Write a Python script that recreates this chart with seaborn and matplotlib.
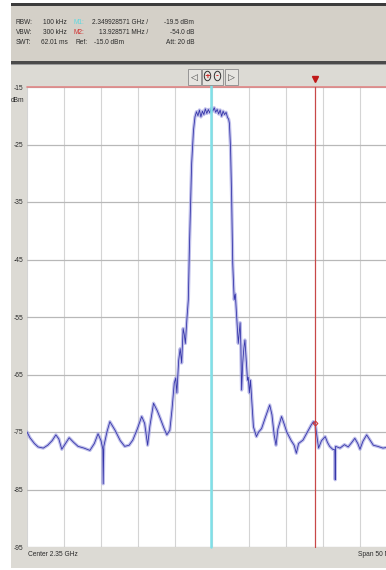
import numpy as np
import pandas as pd
import matplotlib
matplotlib.use("Agg")
import matplotlib.pyplot as plt
from matplotlib.patches import Rectangle, Circle
import seaborn as sns

# ---------------- data ----------------
center_ghz = 2.35
span_mhz = 50.0
ref_level = -15.0
y_ticks = [-15, -25, -35, -45, -55, -65, -75, -85, -95]
y_tick_labels = ["-15", "-25", "-35", "-45", "-55", "-65", "-75", "-85", "-95"]

m1_freq_ghz = 2.349928571
m1_level = -19.5
m2_delta_mhz = 13.928571
m2_delta_db = -54.0

offset_mhz = [
    -25.0, -24.6, -24.0, -23.5, -22.8, -22.2, -21.6, -21.1, -20.7, -20.3,
    -19.8, -19.3, -18.7, -18.1, -17.3, -16.5, -15.9, -15.4, -15.0, -14.75,
    -14.7, -14.62, -14.2, -13.8, -13.1, -12.4, -11.8, -11.2, -10.7, -10.1,
    -9.5, -9.1, -8.7, -8.4, -7.9, -7.4, -7.0, -6.5, -6.1, -5.7,
    -5.4, -5.1, -4.9, -4.75, -4.5, -4.3, -4.1, -3.9, -3.75, -3.6,
    -3.4, -3.2, -3.05, -2.9, -2.75, -2.5, -2.3, -2.1, -1.9, -1.7,
    -1.5, -1.3, -1.1, -0.9, -0.7, -0.5, -0.3, -0.1, 0.1, 0.3,
    0.5, 0.7, 0.9, 1.1, 1.3, 1.5, 1.7, 1.9, 2.1, 2.25,
    2.35, 2.5, 2.65, 2.8, 3.0, 3.15, 3.25, 3.4, 3.55, 3.7,
    3.8, 3.9, 4.0, 4.15, 4.3, 4.45, 4.6, 4.8, 4.9, 5.05,
    5.2, 5.4, 5.6, 6.0, 6.3, 6.7, 7.2, 7.8, 8.1, 8.4,
    8.65, 8.9, 9.4, 9.8, 10.1, 10.7, 11.1, 11.4, 11.7, 12.3,
    12.9, 13.4, 13.7, 13.95, 14.2, 14.4, 14.8, 15.3, 15.6, 15.9,
    16.3, 16.6, 16.65, 16.7, 17.3, 17.9, 18.4, 18.9, 19.3, 19.7,
    20.0, 20.4, 20.9, 21.3, 21.8, 22.4, 23.1, 24.0, 25.0,
]
level_dbm = [
    -75.0, -76.0, -77.0, -77.6, -77.8, -77.3, -76.5, -75.5, -76.2, -78.0,
    -77.0, -76.0, -76.8, -77.5, -77.8, -78.2, -77.0, -75.3, -76.5, -78.0,
    -84.0, -77.5, -75.0, -73.2, -74.7, -76.5, -77.5, -77.3, -76.4, -74.5,
    -72.3, -73.5, -77.3, -74.0, -70.0, -71.3, -72.6, -74.3, -75.5, -74.7,
    -71.0, -66.5, -65.6, -68.2, -62.5, -60.5, -63.0, -57.0, -58.0, -59.6,
    -55.5, -52.0, -42.8, -35.8, -28.3, -22.5, -20.2, -19.3, -20.0, -19.0,
    -20.2, -19.2, -19.8, -18.8, -19.6, -18.9, -19.5, -18.7, -19.2, -18.6,
    -19.4, -18.9, -19.7, -19.0, -20.1, -19.2, -19.8, -19.4, -20.3, -20.6,
    -21.3, -25.4, -34.0, -45.7, -52.0, -51.0, -53.2, -56.7, -59.6, -57.5,
    -56.0, -60.0, -67.7, -63.0, -60.5, -59.0, -62.0, -66.0, -65.5, -68.2,
    -66.0, -70.0, -74.1, -75.8, -75.0, -74.4, -72.5, -70.3, -72.0, -75.5,
    -77.3, -74.5, -72.3, -73.8, -75.0, -76.5, -77.3, -78.7, -77.0, -76.4,
    -75.0, -73.8, -73.2, -73.6, -76.0, -77.8, -76.5, -75.8, -76.8, -77.5,
    -78.0, -78.1, -83.3, -77.5, -77.8, -77.2, -77.6, -76.8, -76.1, -77.0,
    -78.0, -76.6, -75.5, -76.3, -77.3, -77.5, -77.8, -77.6, -77.8,
]

# ---------------- figure ----------------
W, H = 386, 570
sns.set_theme(style="white")
FONTS = ["Liberation Sans Narrow", "Liberation Sans", "DejaVu Sans"]
plt.rcParams["font.family"] = FONTS

fig = plt.figure(figsize=(W / 100, H / 100), dpi=100, facecolor="white")


def fx(x):
    return x / W


def fy(y):
    return 1 - y / H


def frect(x0, y0, x1, y1, **kw):
    fig.add_artist(Rectangle((fx(x0), fy(y1)), fx(x1) - fx(x0), fy(y0) - fy(y1),
                             transform=fig.transFigure, **kw))


# background panels
frect(11, 4, 400, 568, facecolor="#dcdad4", edgecolor="none", zorder=0)
frect(11, 4, 400, 62, facecolor="#d4d0c8", edgecolor="none", zorder=0)
frect(11, 3.5, 400, 5.5, facecolor="#3c3c3c", edgecolor="none", zorder=1)
frect(11, 61, 400, 63.5, facecolor="#4a4a4a", edgecolor="none", zorder=1)
frect(11, 63.5, 400, 64.5, facecolor="#9a9a9a", edgecolor="none", zorder=1)

# header text
fs = 4.7
tc = "#2a2a2a"
hdr = [
    (15.5, 23, "RBW:", tc, "left"),
    (15.5, 33, "VBW:", tc, "left"),
    (15.5, 43, "SWT:", tc, "left"),
    (43, 23, "100 kHz", tc, "left"),
    (43, 33, "300 kHz", tc, "left"),
    (41, 43, "62.01 ms", tc, "left"),
    (73, 23, "M1:", "#5fd8e0", "left"),
    (73, 33, "M2:", "#d03030", "left"),
    (76, 43, "Ref:", tc, "left"),
    (148, 23, f"{m1_freq_ghz:.9f} GHz /", tc, "right"),
    (148, 33, f"{m2_delta_mhz:.6f} MHz /", tc, "right"),
    (94, 43, f"{ref_level:.1f} dBm", tc, "left"),
    (194, 23, f"{m1_level:.1f} dBm", tc, "right"),
    (194, 33, f"{m2_delta_db:.1f} dB", tc, "right"),
    (166, 43, "Att: 20 dB", tc, "left"),
]
for x, y, s, c, ha in hdr:
    fig.text(fx(x), fy(y), s, color=c, fontsize=fs, ha=ha, va="center", zorder=3)

# navigation buttons
for (x0, x1) in [(188, 201), (202, 223), (225, 238)]:
    frect(x0, 69, x1, 85, facecolor="#e6e4e0", edgecolor="#8a8a8a", linewidth=0.6, zorder=2)
fig.text(fx(194.5), fy(77), "◁", fontsize=6.5, ha="center", va="center",
         color="#444444", family="DejaVu Sans", zorder=3)
fig.text(fx(231.5), fy(77), "▷", fontsize=6.5, ha="center", va="center",
         color="#444444", family="DejaVu Sans", zorder=3)
for cx, sym, col in [(207.5, "+", "#d02020"), (217.5, "-", "#d02020")]:
    fig.add_artist(Circle((fx(cx), fy(76)), 3.2 / W, transform=fig.transFigure,
                          facecolor="none", edgecolor="#333333", linewidth=0.7, zorder=3))
    fig.text(fx(cx), fy(76), sym, fontsize=5, ha="center", va="center",
             color=col, family="DejaVu Sans", weight="bold", zorder=3)

# axes (extends past the right edge like the original screenshot)
ax_left, ax_right, ax_top, ax_bottom = 27, 397, 87, 547
ax = fig.add_axes([fx(ax_left), fy(ax_bottom), fx(ax_right) - fx(ax_left),
                   fy(ax_top) - fy(ax_bottom)])
ax.set_facecolor("white")

fmin = center_ghz - span_mhz / 2000
fmax = center_ghz + span_mhz / 2000
ax.set_xlim(fmin, fmax)
ax.set_ylim(-95, ref_level)

ax.set_xticks(np.linspace(fmin, fmax, 11))
ax.set_xticklabels([])
ax.set_yticks(y_ticks)
ax.set_yticklabels(y_tick_labels)
ax.tick_params(axis="y", length=0, pad=2.5, labelsize=4.8, labelcolor=tc)
ax.tick_params(axis="x", length=0)
ax.grid(axis="x", color="#d4d4d4", linewidth=0.8)
ax.grid(axis="y", color="#b8b8b8", linewidth=0.9)
for sp in ax.spines.values():
    sp.set_visible(False)

df = pd.DataFrame({
    "freq": [center_ghz + o / 1000 for o in offset_mhz],
    "level": level_dbm,
})

# trace: noise band + core line
sns.lineplot(data=df, x="freq", y="level", ax=ax, color="#a4a4e2",
             linewidth=2.4, alpha=0.7, estimator=None, sort=False, zorder=4)
sns.lineplot(data=df, x="freq", y="level", ax=ax, color="#3636aa",
             linewidth=0.6, estimator=None, sort=False, zorder=5)
ax.set_xlabel("")
ax.set_ylabel("")

# reference level line
ax.axhline(ref_level, color="#e08585", linewidth=1.2, zorder=6, clip_on=False)

# marker lines
m2_freq = m1_freq_ghz + m2_delta_mhz / 1000
ax.axvline(m1_freq_ghz, ymin=0, ymax=1.025, color="#7fe0e8", linewidth=1.8,
           zorder=7, clip_on=False)
ax.axvline(m2_freq, ymin=0, ymax=1.0, color="#c84848", linewidth=0.9,
           zorder=7, clip_on=False)
ax.plot([m1_freq_ghz], [-13.4], marker="v", markersize=4.5, color="#40c8d8",
        clip_on=False, zorder=8)
ax.plot([m2_freq], [-13.6], marker="v", markersize=4.5, color="#c01818",
        clip_on=False, zorder=8)
ax.plot([m2_freq], [m1_level + m2_delta_db], marker="D", markersize=2.5,
        markerfacecolor="none", markeredgecolor="#d03030", markeredgewidth=0.7,
        zorder=8)

# unit + footer
fig.text(fx(24), fy(100), "dBm", fontsize=4.8, ha="right", va="center", color=tc)
fig.text(fx(27.5), fy(555), f"Center {center_ghz:.2f} GHz", fontsize=4.8,
         ha="left", va="center", color=tc)
fig.text(fx(358), fy(555), f"Span {span_mhz:.0f} MHz", fontsize=4.8,
         ha="left", va="center", color=tc)

fig.savefig("out.png", dpi=100, facecolor="white")
